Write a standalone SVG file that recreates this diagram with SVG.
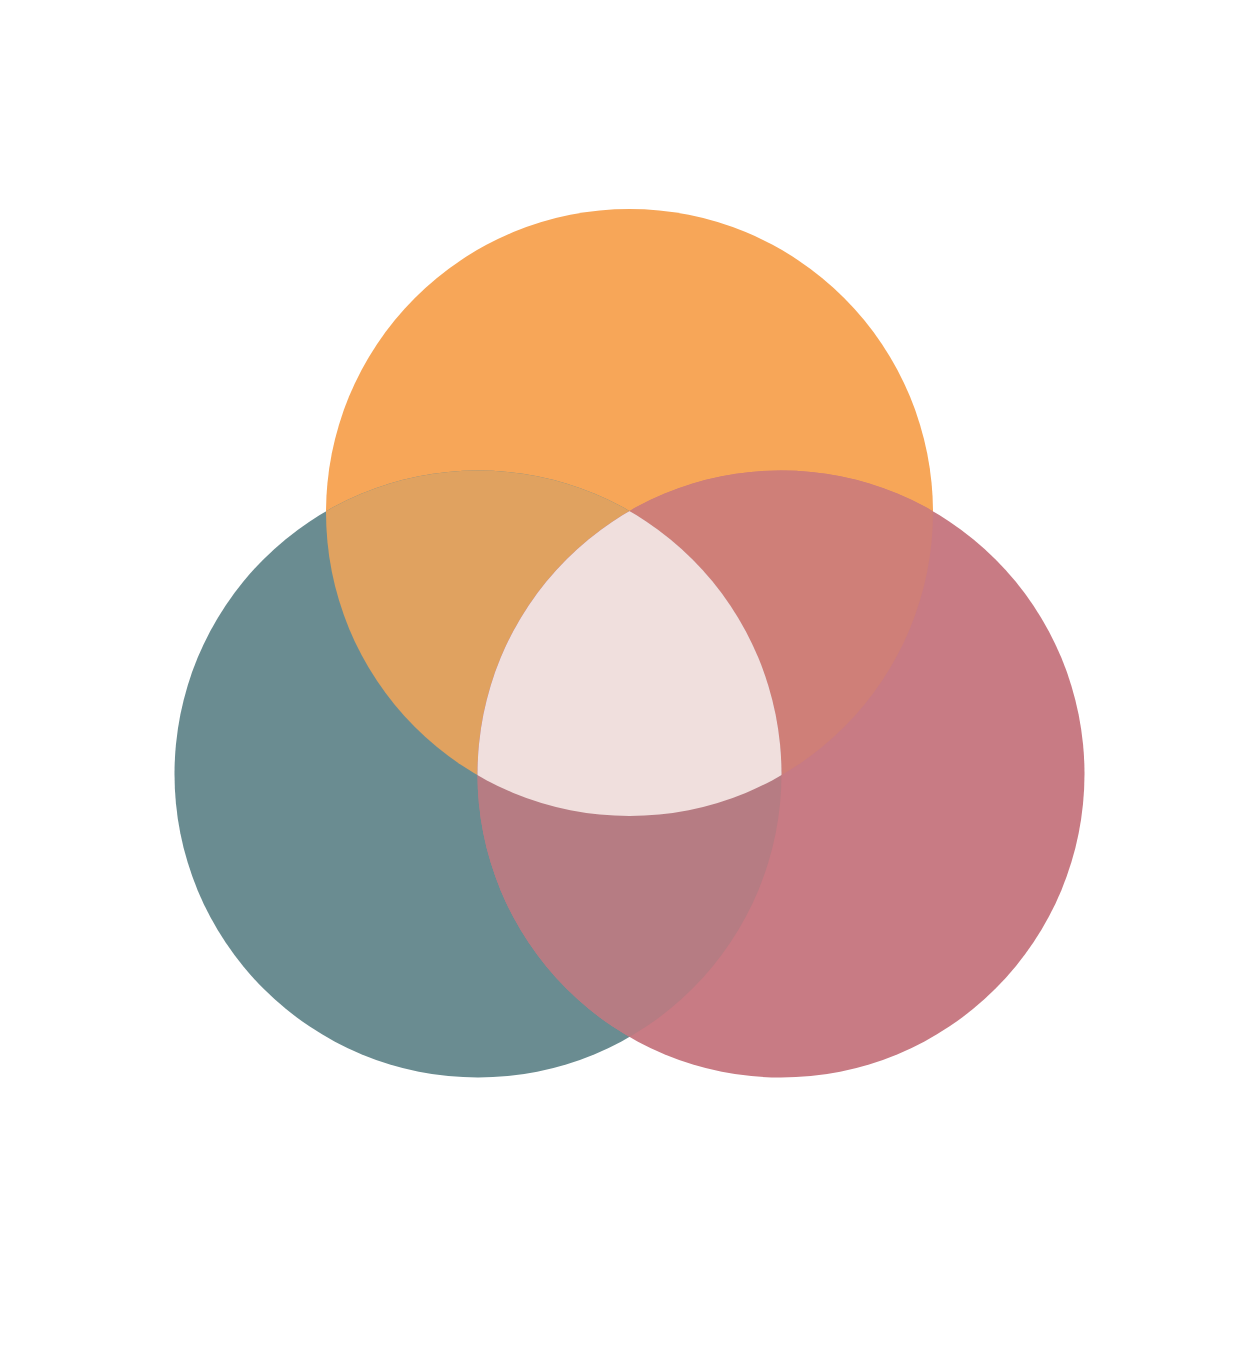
<svg xmlns="http://www.w3.org/2000/svg" width="1254" height="1350" viewBox="0 0 1254 1350">
  <defs>
    <clipPath id="clipA"><circle cx="629.5" cy="512.5" r="303.5"/></clipPath>
    <clipPath id="clipB"><circle cx="478" cy="774" r="303.5"/></clipPath>
    <clipPath id="clipC"><circle cx="781" cy="774" r="303.5"/></clipPath>
  </defs>
  <rect width="1254" height="1350" fill="#ffffff"/>
  <g id="circle-top"><circle cx="629.5" cy="512.5" r="303.5" fill="#F7A658"/></g>
  <g id="circle-left"><circle cx="478" cy="774" r="303.5" fill="#6A8C91"/></g>
  <g id="circle-right"><circle cx="781" cy="774" r="303.5" fill="#C87B84"/></g>
  <g id="overlap-top-left" clip-path="url(#clipA)"><circle cx="478" cy="774" r="303.5" fill="#E0A260"/></g>
  <g id="overlap-top-right" clip-path="url(#clipA)"><circle cx="781" cy="774" r="303.5" fill="#CF7F78"/></g>
  <g id="overlap-left-right" clip-path="url(#clipB)"><circle cx="781" cy="774" r="303.5" fill="#B67C83"/></g>
  <g id="overlap-center" clip-path="url(#clipA)"><g clip-path="url(#clipB)"><circle cx="781" cy="774" r="303.5" fill="#F0DFDD"/></g></g>
  <g id="connectors"/>
</svg>
